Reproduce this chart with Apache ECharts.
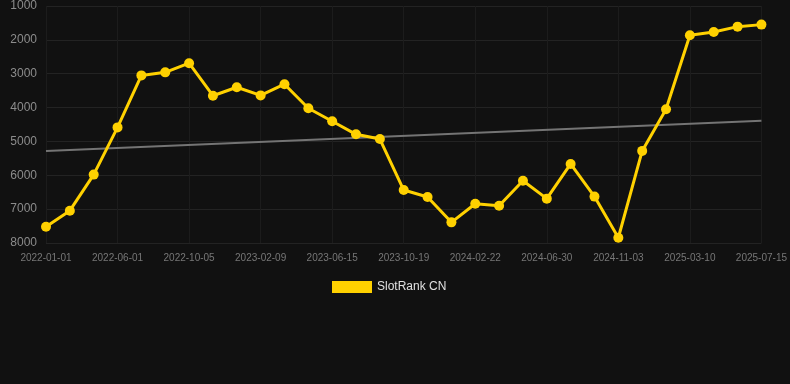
<!DOCTYPE html>
<html>
<head>
<meta charset="utf-8">
<script src="https://cdn.jsdelivr.net/npm/echarts@6/dist/echarts.min.js"></script>
<style>
  html, body { margin: 0; padding: 0; background: #111111; }
  #chart { width: 790px; height: 384px; }
</style>
</head>
<body>
<div id="chart"></div>
<script>
// categories (dates) and rank values
const dates = [
    '2022-01-01', '2022-02-20', '2022-04-11', '2022-06-01', '2022-07-13', '2022-08-24',
    '2022-10-05', '2022-11-16', '2022-12-28', '2023-02-09', '2023-03-23', '2023-05-04',
    '2023-06-15', '2023-07-27', '2023-09-07', '2023-10-19', '2023-11-30', '2024-01-11',
    '2024-02-22', '2024-04-04', '2024-05-17', '2024-06-30', '2024-08-11', '2024-09-22',
    '2024-11-03', '2024-12-15', '2025-01-27', '2025-03-10', '2025-04-21', '2025-06-03',
    '2025-07-15'
];
const rankCN = [
    7520, 7045, 5980, 4585, 3050, 2960, 2690, 3650, 3400, 3640, 3310, 4020,
    4405, 4790, 4930, 6435, 6640, 7390, 6840, 6900, 6160, 6690, 5665, 6630,
    7845, 5280, 4050, 1865, 1770, 1610, 1550
];
// trend line endpoints
const trendStart = 5280;
const trendEnd = 4390;

const chart = echarts.init(document.getElementById('chart'));

const option = {
    backgroundColor: '#111111',
    animation: false,
    grid: { top: 6, left: 46, right: 28, bottom: 141, containLabel: false },
    legend: {
        data: ['SlotRank CN'],
        top: 276,
        left: 327,
        itemWidth: 40,
        itemHeight: 12,
        icon: 'rect',
        textStyle: { color: '#e0e0e0', fontSize: 12, fontFamily: 'Arial, Liberation Sans, sans-serif' }
    },
    xAxis: {
        type: 'category',
        data: dates,
        boundaryGap: false,
        axisLine: { show: false },
        axisTick: { show: false },
        axisLabel: {
            interval: 2,
            color: '#777777',
            fontSize: 10,
            margin: 10,
            fontFamily: 'Arial, Liberation Sans, sans-serif'
        },
        splitLine: { show: true, interval: 2, lineStyle: { color: '#1c1c1c', width: 1 } }
    },
    yAxis: {
        type: 'value',
        inverse: true,
        min: 1000,
        max: 8000,
        interval: 1000,
        axisLine: { show: false },
        axisTick: { show: false },
        axisLabel: {
            color: '#8c8c8c',
            fontSize: 12,
            margin: 9,
            formatter: (v) => String(v),
            fontFamily: 'Arial, Liberation Sans, sans-serif'
        },
        splitLine: { lineStyle: { color: '#232323', width: 1 } }
    },
    series: [
        {
            name: 'SlotRank CN',
            type: 'line',
            data: rankCN,
            color: '#FFD100',
            symbol: 'circle',
            symbolSize: 10,
            lineStyle: { width: 3, color: '#FFD100' },
            itemStyle: { color: '#FFD100' },
            z: 3
        },
        {
            name: 'Trend',
            type: 'line',
            data: [[dates[0], trendStart], [dates[dates.length - 1], trendEnd]],
            symbol: 'none',
            lineStyle: { width: 2, color: '#747474' },
            z: 2
        }
    ]
};
chart.setOption(option);
</script>
</body>
</html>
